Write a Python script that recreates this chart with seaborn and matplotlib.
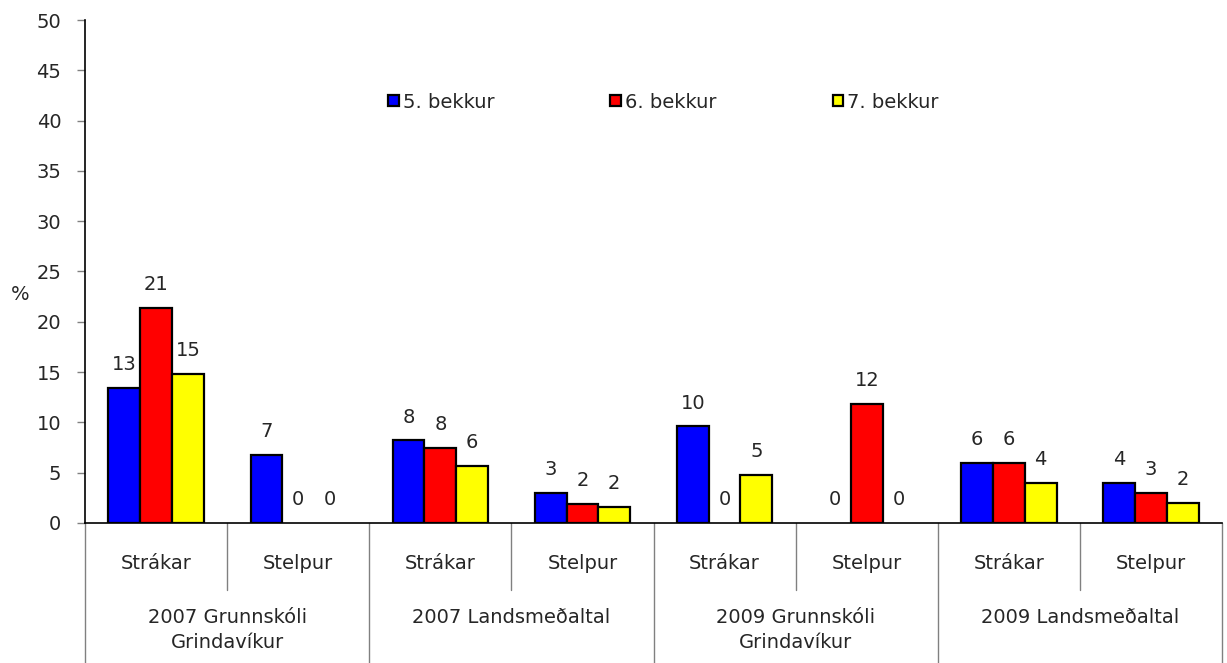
import numpy as np
import pandas as pd
import matplotlib
matplotlib.use("Agg")
import matplotlib.pyplot as plt
import matplotlib.transforms as mtransforms
from matplotlib.patches import Patch
import seaborn as sns

# ======================
# DATA
# ======================
groups = ["2007 Grunnskóli\nGrindavíkur", "2007 Landsmeðaltal",
          "2009 Grunnskóli\nGrindavíkur", "2009 Landsmeðaltal"]
genders = ["Strákar", "Stelpur"]
grades = ["5. bekkur", "6. bekkur", "7. bekkur"]

# values per (group, gender) in order: Strákar, Stelpur for each group
bekkur5 = [13.4, 6.75, 8.2, 3.0, 9.6, 0.0, 6.0, 4.0]
bekkur6 = [21.4, 0.0, 7.5, 1.9, 0.0, 11.8, 6.0, 3.0]
bekkur7 = [14.8, 0.0, 5.7, 1.6, 4.8, 0.0, 4.0, 2.0]

colors = ["#0000FF", "#FF0000", "#FFFF00"]

slots = [f"{g}|{s}" for g in groups for s in genders]
rows = []
for grade, vals in zip(grades, [bekkur5, bekkur6, bekkur7]):
    for slot, v in zip(slots, vals):
        rows.append({"slot": slot, "grade": grade, "value": v})
df = pd.DataFrame(rows)

# ======================
# PLOT
# ======================
sns.set_style("white")
plt.rcParams["font.family"] = ["DejaVu Sans"]
FS = 14
plt.rcParams["font.size"] = FS

fig = plt.figure(figsize=(12.27, 6.63), dpi=100)
ax = fig.add_axes([0.0693, 0.2112, 0.9267, 0.7586])

sns.barplot(data=df, x="slot", y="value", hue="grade", order=slots,
            hue_order=grades, palette=colors, width=0.67,
            edgecolor="black", linewidth=1.6, saturation=1, ax=ax,
            legend=False)

# data labels (rounded), then hide empty bars
for cont in ax.containers:
    vals = [p.get_height() for p in cont]
    ax.bar_label(cont, labels=[f"{int(v + 0.5)}" for v in vals],
                 padding=10, fontsize=FS)
    for p in cont:
        if p.get_height() == 0:
            p.set_visible(False)

ax.set_ylim(0, 50)
ax.set_xlim(-0.5, 7.5)
ax.set_yticks(np.arange(0, 51, 5))
ax.set_xticks([])
ax.set_xlabel("")
ax.set_ylabel("")
ax.tick_params(axis="y", length=6, width=1, color="#808080", pad=11,
               labelsize=FS, left=True)
for side in ["top", "right"]:
    ax.spines[side].set_visible(False)
ax.spines["left"].set_color("black")
ax.spines["bottom"].set_color("black")
ax.spines["left"].set_linewidth(1.2)
ax.spines["bottom"].set_linewidth(1.2)

# category separators and labels below the axis
trans = mtransforms.blended_transform_factory(ax.transData, ax.transAxes)
for x in [-0.5, 1.5, 3.5, 5.5, 7.5]:
    ax.plot([x, x], [0, -0.3], transform=trans, color="#808080", lw=1,
            clip_on=False)
for x in [0.5, 2.5, 4.5, 6.5]:
    ax.plot([x, x], [0, -0.133], transform=trans, color="#808080", lw=1,
            clip_on=False)
for i, slot in enumerate(slots):
    ax.text(i, -0.08, slot.split("|")[1], transform=trans,
            ha="center", va="center", fontsize=FS)
for j, g in enumerate(groups):
    ax.text(2 * j + 0.5, -0.169, g, transform=trans, ha="center",
            va="top", fontsize=FS, linespacing=1.42)

fig.text(20 / 1227, 1 - 295 / 663, "%", ha="center", va="center",
         fontsize=FS)

handles = [Patch(facecolor=c, edgecolor="black", linewidth=1.6) for c in colors]
ax.legend(handles, grades, loc="center left", bbox_to_anchor=(0.258, 0.837),
          ncol=3, frameon=False, handlelength=0.55, handleheight=0.55,
          handletextpad=0.2, columnspacing=5.97, borderpad=0,
          fontsize=FS)

fig.savefig("out.png", dpi=100)
